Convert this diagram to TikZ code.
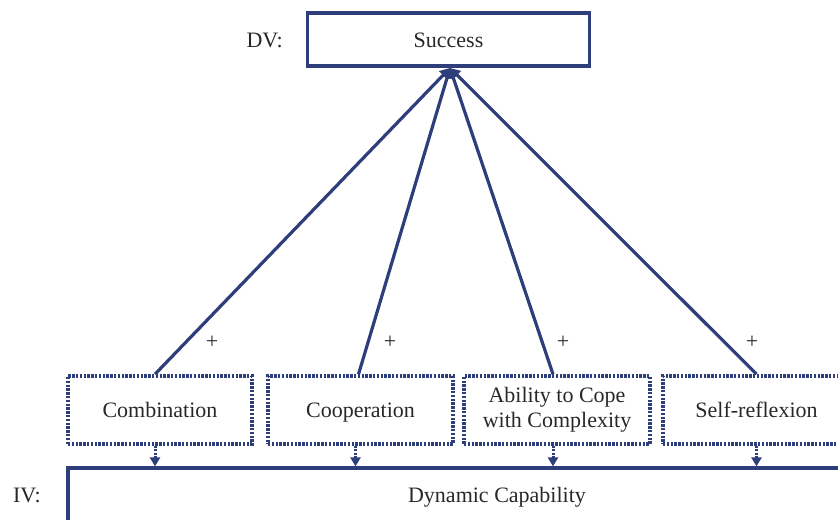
\documentclass[tikz,border=0pt]{standalone}
\usepackage{fontspec}
\setmainfont{Liberation Serif}
\usepackage{xcolor}
\usepackage{tikz}
\usetikzlibrary{arrows.meta, positioning}

\definecolor{navy}{RGB}{46,62,122}
\definecolor{txtgray}{RGB}{40,40,40}

\tikzset{
  solidbox/.style={draw=navy, line width=1.6pt, text=txtgray, align=center, inner sep=0pt},
  dimbox/.style={draw=navy, line width=1.8pt, dash pattern=on 1.2pt off 0.7pt, text=txtgray,
    align=center, minimum height=34pt, inner sep=0pt},
  oneline/.style={text height=1.9ex, text depth=0.2ex},
  effect/.style={draw=navy, line width=1.6pt, -{Triangle[length=5pt,width=5.5pt]}},
  feeds/.style={draw=navy, line width=1.5pt, dash pattern=on 1pt off 0.7pt, -{Triangle[length=4.5pt,width=5pt]}},
  lbl/.style={text=txtgray}
}

\begin{document}
\begin{tikzpicture}[x=0.5pt, y=-0.5pt, font=\fontsize{11}{12.5}\selectfont]
    \useasboundingbox (0,0) rectangle (838,519);
    \clip (0,0) rectangle (838,519);

        \node[solidbox, oneline, minimum width=141pt, minimum height=26.5pt] (succ) at (448.5,39.5) {Success};
        \node[lbl, oneline, left=8pt of succ.west] (dv) {DV:};

        \node[dimbox, oneline, minimum width=92pt] (comb) at (160,410) {Combination};
        \node[dimbox, oneline, minimum width=92.5pt] (coop) at (360.5,410) {Cooperation};
        \node[dimbox, minimum width=93pt] (cope) at (557,410) {Ability to Cope\\with Complexity};
        \node[dimbox, oneline, minimum width=93.5pt] (refl) at (756.5,410) {Self-reflexion};

        \node[solidbox, oneline, minimum width=429pt, minimum height=27pt] (dyn) at (497,495) {Dynamic Capability};
        \node[lbl, oneline] (iv) at (27,495) {IV:};

        \coordinate (tip) at (450,68);

        % positive effects on success
        \draw[effect] ([xshift=-2.5pt]comb.north) -- (tip);
        \draw[effect] ([xshift=-1pt]coop.north) -- (tip);
        \draw[effect] ([xshift=-2pt]cope.north) -- (tip);
        \draw[effect] (refl.north) -- (tip);

        \node[lbl] (p1) at (212,342) {+};
        \node[lbl] (p2) at (390,342) {+};
        \node[lbl] (p3) at (563,342) {+};
        \node[lbl] (p4) at (752,342) {+};

        % dimensions of the capability
        \draw[feeds] ([xshift=-2.5pt]comb.south) -- ([xshift=-2.5pt]comb.south |- dyn.north);
        \draw[feeds] ([xshift=-2.5pt]coop.south) -- ([xshift=-2.5pt]coop.south |- dyn.north);
        \draw[feeds] ([xshift=-2pt]cope.south) -- ([xshift=-2pt]cope.south |- dyn.north);
        \draw[feeds] (refl.south) -- (refl.south |- dyn.north);

    \end{tikzpicture}
\end{document}
